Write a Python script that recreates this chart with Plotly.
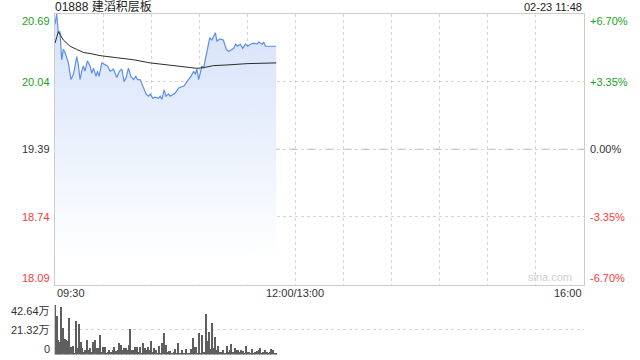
import plotly.graph_objects as go

# ---- data ----
title_text = "01888 建滔积层板"
stamp_text = "02-23 11:48"
prev_close = 19.39
price_ticks = [18.09, 18.74, 19.39, 20.04, 20.69]
price_tick_labels = ["18.09", "18.74", "19.39", "20.04", "20.69"]
pct_tick_labels = ["-6.70%", "-3.35%", "0.00%", "+3.35%", "+6.70%"]
time_ticks = [0, 150, 330]
time_tick_labels = ["09:30", "12:00/13:00", "16:00"]
vol_ticks = [0, 21.32, 42.64]
vol_tick_labels = ["0", "21.32万", "42.64万"]

price_min = [0, 1.04, 2.08, 3.13, 4.17, 5.21, 6.25, 8.33, 10.0, 11.46, 12.5, 13.54, 14.58,
             15.6, 16.67, 17.7, 18.75, 20.2, 21.9, 22.9, 24.0, 25.6, 26.5, 27.5, 29.2,
             31.25, 32.7, 34.4, 36.5, 38.5, 40.2, 41.7, 43.1, 44.4, 45.8, 47.3, 49.0,
             50.4, 51.5, 53.1, 54.8, 56.9, 58.3, 59.4, 61.0, 62.5, 64.6, 65.6, 66.7,
             68.1, 69.2, 70.8, 71.9, 73.5, 75.0, 77.1, 79.2, 80.6, 82.3, 83.3, 84.8,
             86.5, 87.5, 88.5, 89.6, 91.7, 92.7, 93.75, 95.2, 96.5, 97.9, 100, 101,
             103, 105, 106.9, 108.3, 110.4, 111.5, 112.7, 113.9, 115.6, 117.1, 118.75,
             120.2, 121.9, 124, 126, 127.1, 129.2, 130.2, 131.25, 138]
price_val = [20.59, 20.69, 20.51, 20.52, 20.25, 20.35, 20.32, 20.22, 20.06, 20.11, 20.19,
             20.28, 20.20, 20.06, 20.14, 20.19, 20.14, 20.24, 20.19, 20.12, 20.17, 20.09,
             20.14, 20.09, 20.22, 20.20, 20.19, 20.14, 20.16, 20.08, 20.14, 20.16, 20.04,
             20.08, 20.17, 20.09, 20.06, 20.09, 20.06, 20.06, 20.00, 19.92, 19.90, 19.92,
             19.88, 19.89, 19.88, 19.90, 19.87, 19.96, 19.90, 19.92, 19.90, 19.92, 19.93,
             19.98, 19.99, 20.00, 20.04, 20.06, 20.09, 20.14, 20.11, 20.16, 20.06, 20.19,
             20.17, 20.25, 20.38, 20.46, 20.44, 20.51, 20.43, 20.45, 20.44, 20.35, 20.33,
             20.35, 20.36, 20.40, 20.38, 20.40, 20.36, 20.40, 20.38, 20.40, 20.41, 20.40,
             20.42, 20.40, 20.42, 20.38, 20.38]

avg_min = [0, 2.1, 5.2, 9.4, 13.5, 17.7, 21.9, 28.1, 38.5, 49, 59.4, 69.8, 80.2, 88.5,
           92.7, 99, 107.3, 119.8, 138]
avg_val = [20.41, 20.52, 20.44, 20.38, 20.35, 20.32, 20.31, 20.29, 20.27, 20.25, 20.22,
           20.20, 20.18, 20.168, 20.175, 20.194, 20.20, 20.213, 20.22]

volume = [42.6, 33.1, 12.4, 10.9, 41.2, 22.5, 13.3, 12.4, 11.5, 31.1, 6.6, 7.2, 1.4, 28.8,
          5.8, 26.2, 10.9, 5.2, 2.3, 3.7, 12.4, 3.7, 5.8, 2.3, 10.9, 12.4, 5.2, 5.2, 16.7,
          2.3, 6.6, 6.6, 1.7, 2.3, 4.3, 2.3, 3.7, 6.6, 2.9, 4.3, 10.1, 8.1, 3.7, 5.2, 6.0,
          3.7, 8.1, 21.9, 4.3, 3.7, 6.6, 6.6, 2.3, 6.6, 1.7, 10.1, 5.2, 4.3, 6.6, 3.7, 11.8,
          2.3, 5.2, 3.7, 1.7, 7.2, 1.4, 9.5, 18.7,
          8.1, 2.3, 2.9, 2.9, 1.4, 2.3, 4.6, 1.4, 10.1, 1.4, 3.7, 1.7, 1.4, 4.6, 1.4, 1.4,
          4.6, 14.4, 6.6, 6.6, 1.7, 18.1, 1.4, 16.7, 2.3, 34.9, 11.8, 19.6, 4.6, 27.4, 5.8,
          15.3, 4.3, 7.2, 2.3, 2.3, 3.7, 1.4, 7.2, 2.3, 3.7, 8.9, 2.3, 5.2, 3.7, 4.3, 2.3,
          3.7, 3.2, 1.4, 7.2, 2.3, 2.3, 1.4, 4.6, 1.4, 2.3, 3.2, 4.3, 5.2, 1.4, 2.3, 3.7,
          2.3, 1.4, 2.3, 4.6, 3.7, 0.9, 1.4]
vol_min = list(range(len(volume)))

# ---- styling ----
FONT = "Liberation Sans, Arial, Noto Sans CJK SC"
GREEN = "#1aa31a"
RED = "#f23c3c"
DARK = "#333333"
GRID = "#d4d4d4"
W, H = 640, 360
L, R = 55, 584
T1, B1 = 14, 284.5
T2, B2 = 305, 354.5

def py(p):
    return 1 - p / H

fig = go.Figure()

fig.add_trace(go.Scatter(
    x=price_min, y=price_val, mode="lines",
    line=dict(color="#5b8fe8", width=1.2),
    fill="tozeroy",
    fillgradient=dict(type="vertical", start=18.32, stop=20.6,
                      colorscale=[[0, "rgba(255,255,255,1)"], [1, "rgb(214,227,250)"]]),
    hoverinfo="skip", xaxis="x", yaxis="y"))

fig.add_trace(go.Scatter(
    x=avg_min, y=avg_val, mode="lines",
    line=dict(color="#2b2b2b", width=1),
    hoverinfo="skip", xaxis="x", yaxis="y"))

fig.add_trace(go.Bar(
    x=vol_min, y=volume, width=0.65,
    marker=dict(color="#5e5e5e", line=dict(width=0)),
    hoverinfo="skip", xaxis="x2", yaxis="y2"))

grid_x = list(range(0, 331, 30))

fig.update_layout(
    width=W, height=H, margin=dict(l=0, r=0, t=0, b=0),
    paper_bgcolor="white", plot_bgcolor="white", showlegend=False,
    font=dict(family=FONT, size=11, color=DARK),
    bargap=0,
    xaxis=dict(domain=[L / W, R / W], range=[0, 330], tickvals=grid_x,
               showticklabels=False, ticks="", showgrid=True, gridcolor=GRID,
               griddash="dot", gridwidth=1, zeroline=False,
               showline=True, linecolor="#cccccc", linewidth=1, mirror=True,
               fixedrange=True),
    yaxis=dict(domain=[py(B1), py(T1)], range=[18.09, 20.69], tickvals=price_ticks,
               showticklabels=False, ticks="", showgrid=True, gridcolor=GRID,
               griddash="dot", zeroline=False,
               showline=True, linecolor="#cccccc", linewidth=1, mirror=True,
               fixedrange=True),
    xaxis2=dict(domain=[L / W, R / W], range=[0, 330], showticklabels=False,
                ticks="", showgrid=False, zeroline=False, showline=False,
                anchor="y2", fixedrange=True),
    yaxis2=dict(domain=[py(B2), py(T2)], range=[0, 42.64], tickvals=vol_ticks,
                showticklabels=False, ticks="", showgrid=True, gridcolor=GRID,
                griddash="dot", zeroline=False, showline=True,
                linecolor="#cccccc", linewidth=1, anchor="x2", fixedrange=True),
)

# previous close line
fig.add_shape(type="line", xref="x", yref="y", x0=0, x1=330, y0=prev_close, y1=prev_close,
              line=dict(color="#b0b0b0", width=1, dash="dash"), layer="below")

# price labels
colors = [RED, RED, DARK, GREEN, GREEN]
shifts = [7, 0, 0, 0, -7]
for v, lab, pct, c, s in zip(price_ticks, price_tick_labels, pct_tick_labels, colors, shifts):
    fig.add_annotation(x=L / W, xref="paper", y=v, yref="y", text=lab, showarrow=False,
                       xanchor="right", xshift=-3, yshift=s, font=dict(color=c, size=11))
    fig.add_annotation(x=R / W, xref="paper", y=v, yref="y", text=pct, showarrow=False,
                       xanchor="left", xshift=4, yshift=s, font=dict(color=c, size=11))

# volume labels
vshifts = [6, 0, -6]
for v, lab, s in zip(vol_ticks, vol_tick_labels, vshifts):
    fig.add_annotation(x=L / W, xref="paper", y=v, yref="y2", text=lab, showarrow=False,
                       xanchor="right", xshift=-3, yshift=s, font=dict(color=DARK, size=11))

# time labels
anchors = ["left", "center", "right"]
for t, lab, a in zip(time_ticks, time_tick_labels, anchors):
    fig.add_annotation(x=t, xref="x", y=py(293), yref="paper", text=lab, showarrow=False,
                       xanchor=a, yanchor="middle", font=dict(color=DARK, size=11))

# header
fig.add_annotation(x=L / W, xref="paper", y=py(7), yref="paper", text=title_text,
                   showarrow=False, xanchor="left", yanchor="middle", xshift=-2,
                   font=dict(color="#222222", size=12))
fig.add_annotation(x=R / W, xref="paper", y=py(7), yref="paper", text=stamp_text,
                   showarrow=False, xanchor="right", yanchor="middle",
                   font=dict(color="#222222", size=11))
fig.add_annotation(x=574 / W, xref="paper", y=py(277), yref="paper", text="sina.com",
                   showarrow=False, xanchor="right", yanchor="middle",
                   font=dict(color="#d0d0d0", size=11))

fig.write_html("out.html")
